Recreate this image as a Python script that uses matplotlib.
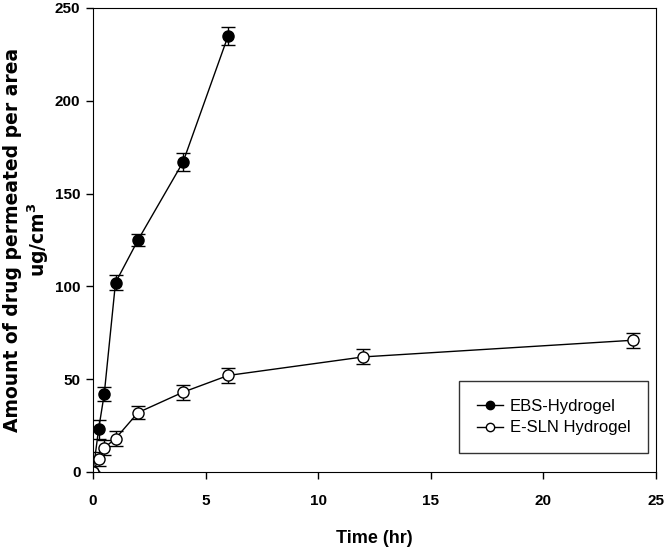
import matplotlib.pyplot as plt

# Data ------------------------------------------------------------------------
t_ebs = [0, 0.25, 0.5, 1, 2, 4, 6]
ebs = [0, 23, 42, 102, 125, 167, 235]
ebs_err = [0, 5, 4, 4, 3, 5, 5]

t_sln = [0, 0.25, 0.5, 1, 2, 4, 6, 12, 24]
sln = [0, 7, 13, 18, 32, 43, 52, 62, 71]
sln_err = [0, 4, 4, 4, 3.5, 4, 4, 4, 4]

x_ticks = [0, 5, 10, 15, 20, 25]
y_ticks = [0, 50, 100, 150, 200, 250]

plt.rcParams['font.family'] = ['Liberation Sans', 'DejaVu Sans']
plt.rcParams['mathtext.fontset'] = 'dejavusans'

fig = plt.figure(figsize=(6.67, 5.51), dpi=100)
ax = fig.add_axes([0.1394, 0.1434, 0.8441, 0.8421])

# error bars first, lines + markers on top
ax.errorbar(t_ebs, ebs, yerr=ebs_err, fmt='none', ecolor='black',
            elinewidth=1, capsize=5, capthick=1)
ax.errorbar(t_sln, sln, yerr=sln_err, fmt='none', ecolor='black',
            elinewidth=1, capsize=5, capthick=1)
ax.plot(t_ebs, ebs, color='black', lw=1, marker='o', ms=8,
        mfc='black', mec='black', label='EBS-Hydrogel')
ax.plot(t_sln, sln, color='black', lw=1, marker='o', ms=8,
        mfc='white', mec='black', label='E-SLN Hydrogel')

ax.set_xlim(0, 25)
ax.set_ylim(0, 250)
ax.set_xticks(x_ticks)
ax.set_yticks(y_ticks)
ax.tick_params(direction='out', length=5, width=1)
ax.tick_params(axis='x', pad=11)
ax.tick_params(axis='y', pad=4)
for lab in ax.get_xticklabels() + ax.get_yticklabels():
    lab.set_fontweight('bold')
    lab.set_fontsize(11)

ax.set_xlabel('Time (hr)', fontsize=13, fontweight='bold')
ax.xaxis.set_label_coords(0.5, -0.125)
ax.set_ylabel('Amount of drug permeated per area\nug/cm$^\\mathbf{3}$',
              fontsize=13.5, fontweight='bold', family='DejaVu Sans',
              linespacing=1.15)
ax.yaxis.set_label_coords(-0.075, 0.5)

leg = ax.legend(loc='lower right', bbox_to_anchor=(0.986, 0.041),
                borderaxespad=0, fontsize=12, frameon=True, fancybox=False,
                edgecolor='black', borderpad=1.05, handlelength=1.6,
                handletextpad=0.4, markerscale=0.75, labelspacing=0.4)
leg.get_frame().set_linewidth(1)

plt.savefig('out.png', dpi=100)
